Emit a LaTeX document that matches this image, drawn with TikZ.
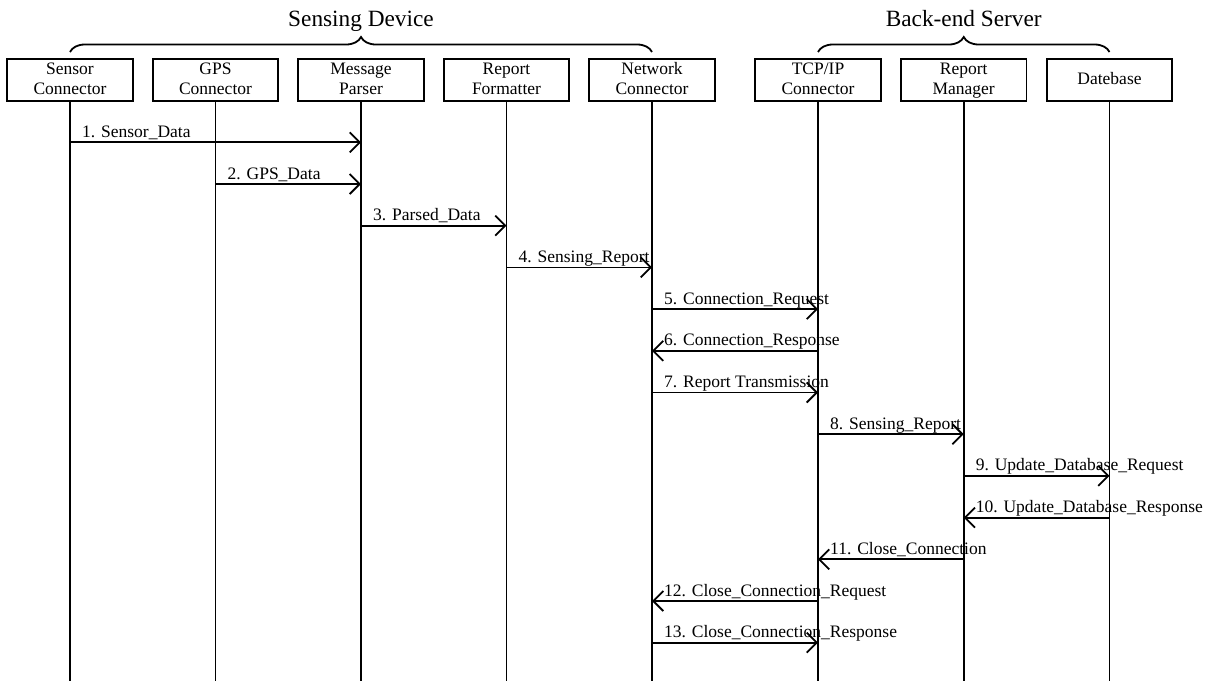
\documentclass[tikz,border=0pt]{standalone}
\usepackage{fontspec}
\setmainfont{Liberation Serif}
\usetikzlibrary{arrows.meta,decorations.pathreplacing,calc}
\newcommand{\lblfont}{\fontsize{17.5pt}{20pt}\selectfont}
\newcommand{\ttlfont}{\fontsize{23.3pt}{26pt}\selectfont}
\newcommand{\twoline}[2]{\strut#1\\\strut#2}
\begin{document}
\begin{tikzpicture}[x=1pt,y=-1pt,
  box/.style={draw, line width=1.8pt, minimum width=125.5pt, minimum height=42pt,
              inner sep=0pt, align=center, font=\lblfont},
  life/.style={line width=1.8pt},
  msg/.style={line width=1.8pt, -{Straight Barb[length=10pt,width=20pt,line width=1.8pt]}},
  lab/.style={anchor=base west, inner sep=0pt, font=\lblfont},
  grp/.style={line width=1.8pt, decorate, decoration={brace, amplitude=15pt}},
  ttl/.style={anchor=base, inner sep=0pt, font=\ttlfont}]
  \useasboundingbox (0,0) rectangle (1213,681);

  % participants
  \node[box] (sc) at (70,80)     {\twoline{Sensor}{Connector}};
  \node[box] (gc) at (215.5,80)  {\twoline{GPS}{Connector}};
  \node[box] (mp) at (361,80)    {\twoline{Message}{Parser}};
  \node[box] (rf) at (506.5,80)  {\twoline{Report}{Formatter}};
  \node[box] (nc) at (652,80)    {\twoline{Network}{Connector}};
  \node[box] (tc) at (818,80)    {\twoline{TCP/IP}{Connector}};
  \node[box] (rm) at (963.7,80)  {\twoline{Report}{Manager}};
  \node[box] (db) at (1109.5,80) {\strut Datebase};

  % group braces and titles
  \draw[grp] (sc.north |- 0,52) coordinate (sdL) -- (nc.north |- 0,52) coordinate (sdR);
  \draw[grp] (tc.north |- 0,52) coordinate (bsL) -- (db.north |- 0,52) coordinate (bsR);
  \node[ttl] (sdt) at ($(sdL)!0.5!(sdR)+(0,-26)$) {Sensing Device};
  \node[ttl] (bst) at ($(bsL)!0.5!(bsR)+(0,-26)$) {Back-end Server};

  % lifelines
  \coordinate (bot) at (0,681);
  \foreach \p in {sc,gc,mp,rf,nc,tc,rm,db}
    \draw[life] (\p.south) -- (\p.south |- bot);

  % message rows
  \foreach \i [evaluate=\i as \yy using 142.3+41.7*(\i-1)] in {1,...,13}
    \coordinate (m\i) at (0,\yy);

  % messages
  \draw[msg] (sc |- m1)  -- (mp |- m1);
  \node[lab] (l1)  at ($(sc |- m1)+(12,-5)$)  {1. Sensor\_Data};
  \draw[msg] (gc |- m2)  -- (mp |- m2);
  \node[lab] (l2)  at ($(gc |- m2)+(12,-5)$)  {2. GPS\_Data};
  \draw[msg] (mp |- m3)  -- (rf |- m3);
  \node[lab] (l3)  at ($(mp |- m3)+(12,-5)$)  {3. Parsed\_Data};
  \draw[msg] (rf |- m4)  -- (nc |- m4);
  \node[lab] (l4)  at ($(rf |- m4)+(12,-5)$)  {4. Sensing\_Report};
  \draw[msg] (nc |- m5)  -- (tc |- m5);
  \node[lab] (l5)  at ($(nc |- m5)+(12,-5)$)  {5. Connection\_Request};
  \draw[msg] (tc |- m6)  -- (nc |- m6);
  \node[lab] (l6)  at ($(nc |- m6)+(12,-5)$)  {6. Connection\_Response};
  \draw[msg] (nc |- m7)  -- (tc |- m7);
  \node[lab] (l7)  at ($(nc |- m7)+(12,-5)$)  {7. Report Transmission};
  \draw[msg] (tc |- m8)  -- (rm |- m8);
  \node[lab] (l8)  at ($(tc |- m8)+(12,-5)$)  {8. Sensing\_Report};
  \draw[msg] (rm |- m9)  -- (db |- m9);
  \node[lab] (l9)  at ($(rm |- m9)+(12,-5)$)  {9. Update\_Database\_Request};
  \draw[msg] (db |- m10) -- (rm |- m10);
  \node[lab] (l10) at ($(rm |- m10)+(12,-5)$) {10. Update\_Database\_Response};
  \draw[msg] (rm |- m11) -- (tc |- m11);
  \node[lab] (l11) at ($(tc |- m11)+(12,-5)$) {11. Close\_Connection};
  \draw[msg] (tc |- m12) -- (nc |- m12);
  \node[lab] (l12) at ($(nc |- m12)+(12,-5)$) {12. Close\_Connection\_Request};
  \draw[msg] (nc |- m13) -- (tc |- m13);
  \node[lab] (l13) at ($(nc |- m13)+(12,-5)$) {13. Close\_Connection\_Response};
\end{tikzpicture}
\end{document}
